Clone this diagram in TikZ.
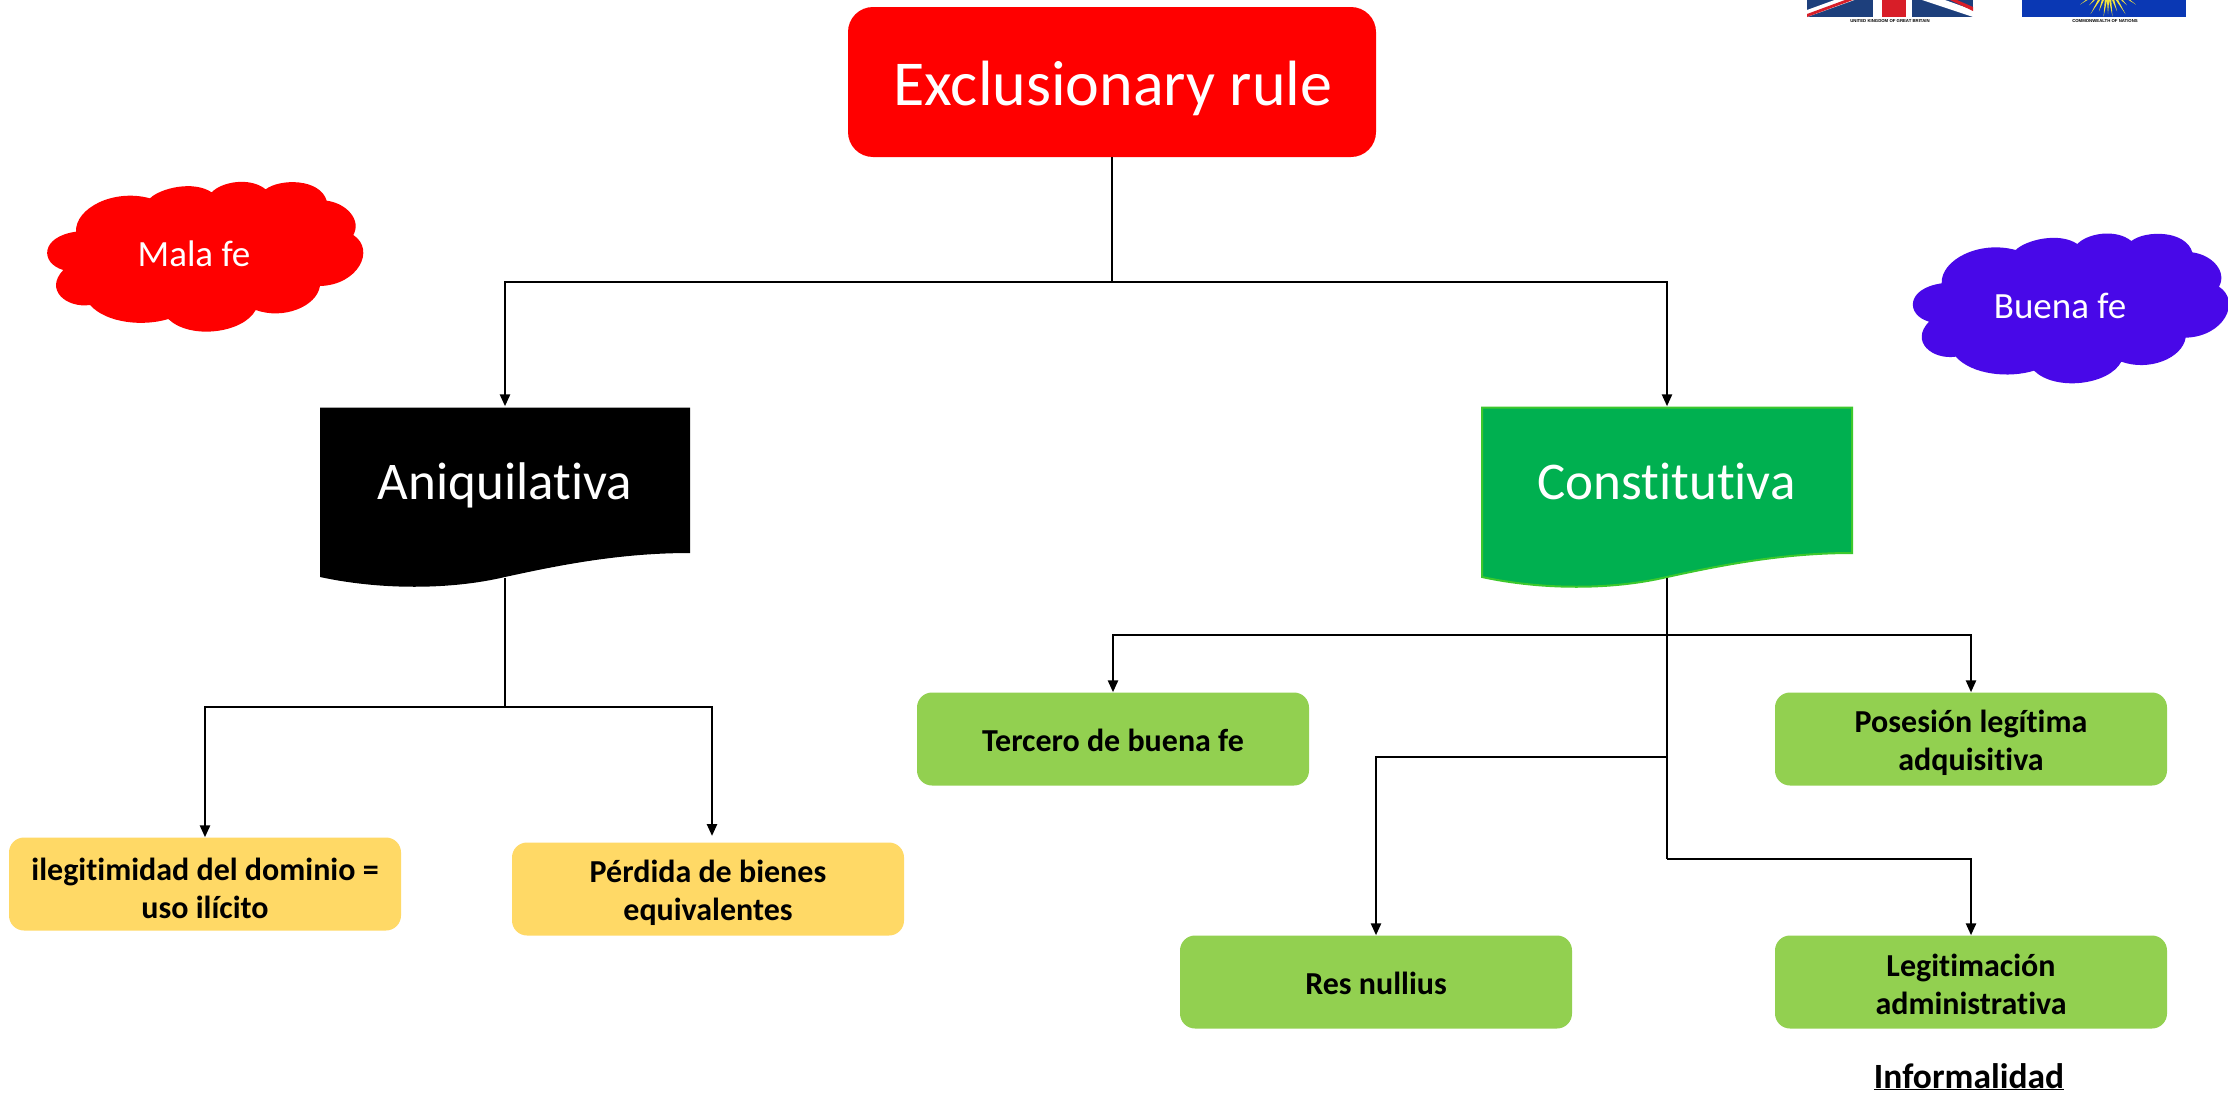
\documentclass[tikz,border=0pt]{standalone}
\usepackage{fontspec}
\setmainfont{Carlito}[Ligatures=NoCommon]
\newfontfamily\capfont{Liberation Sans}
\usetikzlibrary{arrows.meta}
\definecolor{cRed}{HTML}{FF0000}
\definecolor{cGreen}{HTML}{00B050}
\definecolor{cGreenEdge}{HTML}{3CC82C}
\definecolor{cLime}{HTML}{92D050}
\definecolor{cGold}{HTML}{FFD966}
\definecolor{cViolet}{HTML}{4808E8}
\definecolor{cNavy}{HTML}{1D3F7C}
\definecolor{cFlagRed}{HTML}{D81E28}
\definecolor{cFlagBlue}{HTML}{0A38B4}
\definecolor{cRay}{HTML}{F2E23C}
\tikzset{
  x=1pt,y=-1pt,
  conn/.style={line width=2.5pt,black},
  arr/.style={conn,-{Triangle[length=12pt,width=10pt]}},
  limebox/.style={fill=cLime,rounded corners=15pt,minimum width=392pt,minimum height=93pt,inner sep=0pt},
  goldbox/.style={limebox,fill=cGold},
  boxtext/.style={inner sep=0pt,align=center,yshift=-4pt,font=\fontsize{32}{38}\selectfont\bfseries},
  docshape/.style={minimum width=372pt,minimum height=171pt,inner sep=0pt},
  doclabel/.style={anchor=base,text=white,inner sep=0pt,font=\fontsize{53}{60}\selectfont},
  cloudlabel/.style={anchor=base,text=white,inner sep=0pt,font=\fontsize{37}{44}\selectfont},
  flagcap/.style={anchor=base,inner sep=0pt,font=\capfont\fontsize{4.3}{5}\selectfont\bfseries},
}
\newcommand{\cloudpath}{
  (76,81.67) .. controls (75,58.33) and (113.33,38.33) .. (150,48.33)
  .. controls (160,38.33) and (193.33,30) .. (211.67,42.33)
  .. controls (221.67,31.67) and (250,26.67) .. (265.67,39.33)
  .. controls (280,28.33) and (320,28.33) .. (326.67,50.67)
  .. controls (346.67,53.33) and (361.67,70) .. (353.33,85)
  .. controls (376,100) and (358,135) .. (320,136)
  .. controls (316.67,156.67) and (283.33,170) .. (255.67,160)
  .. controls (243.33,183.33) and (190,190) .. (168.33,169)
  .. controls (143.33,176.67) and (106.67,173.33) .. (90,155)
  .. controls (66.67,158.33) and (44,140) .. (63.33,120)
  .. controls (40,113.33) and (40,86.67) .. (76,81.67) -- cycle
}
\begin{document}
\begin{tikzpicture}
\clip (0,0) rectangle (2228,1095);
\fill[white] (0,0) rectangle (2228,1095);

% flags, cut by the top edge
\begin{scope}
  \clip (1807,0) rectangle (1973,17);
  \fill[cNavy] (1807,0) rectangle (1973,17);
  \fill[white] (1807,10) -- (1840,-2) -- (1860,-2) -- (1807,17) -- cycle;
  \fill[cFlagRed] (1807,14) -- (1845,0) -- (1853,0) -- (1807,17) -- cycle;
  \fill[white] (1922,0) -- (1945,0) -- (1973,10) -- (1973,17) -- cycle;
  \fill[cFlagRed] (1950,0) -- (1957,0) -- (1973,7) -- (1973,11) -- cycle;
  \fill[white] (1873,0) rectangle (1912,17);
  \fill[cFlagRed] (1882,0) rectangle (1906,17);
\end{scope}
\begin{scope}
  \clip (2022,0) rectangle (2186,17);
  \fill[cFlagBlue] (2022,0) rectangle (2186,17);
  \begin{scope}[shift={(2108,-15)}]
    \foreach \a/\rr in {35/34,47/28,59/34,71/28,82/32,90/29,98/32,109/28,121/34,133/28,145/34}{
      \fill[cRay] (\a-5:14) -- (\a+5:14) -- (\a:\rr) -- cycle;
    }
  \end{scope}
\end{scope}
\node[flagcap] (capuk) at (1890,22.5) {UNITED KINGDOM OF GREAT BRITAIN};
\node[flagcap] (capcw) at (2105,22.5) {COMMONWEALTH OF NATIONS};

% clouds
\begin{scope}[shift={(0,150)}]
  \fill[cRed] \cloudpath;
\end{scope}
\node[cloudlabel] (mala) at (194,266) {Mala fe};
\begin{scope}[shift={(1865.67,201.67)}]
  \fill[cViolet] \cloudpath;
\end{scope}
\node[cloudlabel] (buena) at (2060,318) {Buena fe};

% top box
\node[fill=cRed,rounded corners=25pt,minimum width=528pt,minimum height=150pt,inner sep=0pt] (excl) at (1112,82) {};
\node[doclabel,font=\fontsize{64}{70}\selectfont] (exclt) at (1113,105.5) {Exclusionary rule};

% document shapes
\node[docshape] (ani) at (505,492) {};
\fill[black] (320,407.5) -- (690,407.5) -- (690,553) .. controls (620,553) and (560,565) .. (505,577)
  .. controls (450,590) and (380,590) .. (320,577) -- cycle;
\node[doclabel] (anit) at (505,499.5) {Aniquilativa};
\node[docshape] (con) at (1667,492) {};
\draw[line width=2pt,draw=cGreenEdge,fill=cGreen] (1482,407.5) -- (1852,407.5) -- (1852,553) .. controls (1783,553) and (1722,565) .. (1667,577)
  .. controls (1612,590) and (1542,590) .. (1482,577) -- cycle;
\node[doclabel] (cont) at (1666.5,499.5) {Constitutiva};

% leaves
\node[goldbox] (ileg) at (205,884) {};
\node[boxtext] (ilegt) at (ileg) {ilegitimidad del dominio =\\uso ilícito};
\node[goldbox] (perd) at (708,889) {};
\node[boxtext] (perdt) at (perd) {Pérdida de bienes\\equivalentes};
\node[limebox] (terc) at (1113,739) {};
\node[boxtext,yshift=2.5pt] (terct) at (terc) {Tercero de buena fe};
\node[limebox] (pose) at (1971,739) {};
\node[boxtext] (poset) at (pose) {Posesión legítima\\adquisitiva};
\node[limebox] (res)  at (1376,982) {};
\node[boxtext,yshift=3pt] (rest) at (res) {Res nullius};
\node[limebox] (legi) at (1971,982) {};
\node[boxtext,yshift=2pt] (legit) at (legi) {Legitimación\\administrativa};
\node[anchor=base,inner sep=0pt,font=\fontsize{35.5}{42}\selectfont\bfseries] (info) at (1969,1088) {\underline{Informalidad}};

% connectors
\coordinate (j1) at (1112,282);
\draw[conn] (excl.south) -- (j1);
\draw[arr] (j1) -| (ani.north);
\draw[arr] (j1) -| (con.north);

\coordinate (j2) at (505,707);
\coordinate (perdtop) at (712,836);
\draw[conn] (ani.south) -- (j2);
\draw[arr] (j2) -| (ileg.north);
\draw[arr] (j2) -| (perdtop);

\coordinate (j3) at (1667,635);
\coordinate (j4) at (1667,757);
\coordinate (j5) at (1667,859);
\draw[conn] (con.south) -- (j5);
\draw[arr] (j3) -| (terc.north);
\draw[arr] (j3) -| (pose.north);
\draw[arr] (j4) -| (res.north);
\draw[arr] (j5) -| (legi.north);
\end{tikzpicture}
\end{document}
